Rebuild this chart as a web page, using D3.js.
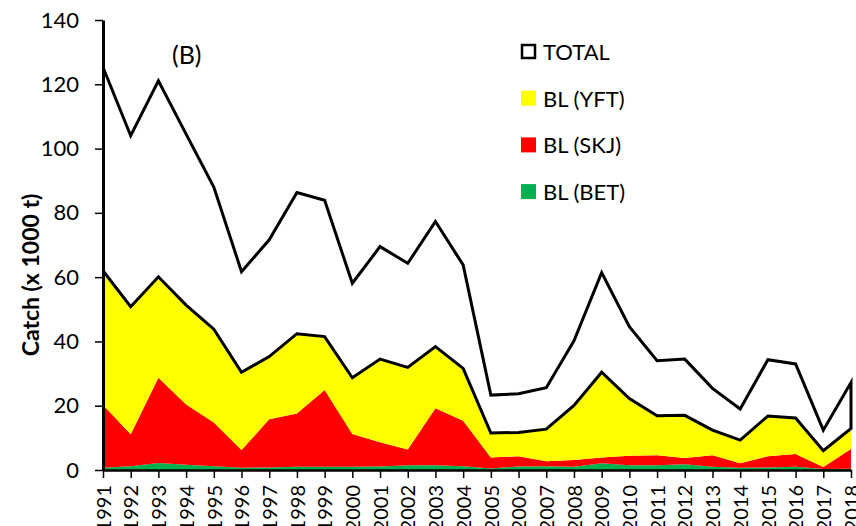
<!DOCTYPE html>
<html lang="en">
<head>
  <meta charset="UTF-8">
  <title>Catch BL</title>
  <script src="https://d3js.org/d3.v7.min.js"></script>
  <style>
    body { margin: 0; background: #fff; }
    svg { display: block; font-family: Lato, "Liberation Sans", sans-serif; }
  </style>
</head>
<body>
  <div id="chart"></div>
  <script>
    const years = d3.range(1991, 2019);
    const bet = [0.7, 1.2, 2.2, 1.6, 1.2, 0.7, 0.8, 1.0, 1.0, 1.0, 1.1, 1.5, 1.5, 1.2,
                 0.5, 1.1, 1.2, 1.0, 2.1, 1.5, 1.5, 1.8, 1.0, 0.7, 0.8, 1.0, 0.3, 0.4];
    const skj = [19.5, 9.9, 26.5, 18.8, 13.6, 5.5, 15.0, 16.6, 23.9, 10.2, 7.5, 4.9, 17.7, 14.1,
                 3.4, 3.2, 1.5, 2.1, 1.8, 2.9, 3.1, 1.9, 3.6, 1.4, 3.5, 4.0, 0.6, 6.1];
    const yft = [41.8, 39.7, 31.4, 30.9, 29.0, 24.2, 19.5, 24.8, 16.6, 17.5, 25.9, 25.5, 19.2, 16.3,
                 7.6, 7.4, 10.0, 17.0, 26.5, 17.8, 12.3, 13.3, 7.8, 7.2, 12.5, 11.2, 5.1, 6.4];
    const total = [125.3, 104.0, 121.1, 104.5, 88.0, 61.7, 71.6, 86.3, 83.9, 58.1, 69.5, 64.3, 77.3, 63.8,
                   23.3, 23.7, 25.6, 40.2, 61.4, 44.6, 34.0, 34.5, 25.4, 19.0, 34.3, 33.0, 12.4, 27.2];
    const yTicks = [0, 20, 40, 60, 80, 100, 120, 140];
    const legendItems = [
      { name: "TOTAL", color: "#ffffff" },
      { name: "BL (YFT)", color: "#ffff00" },
      { name: "BL (SKJ)", color: "#ff0000" },
      { name: "BL (BET)", color: "#00b050" }
    ];

    const width = 856, height = 526;
    const margin = { top: 20, right: 5, bottom: 56, left: 103 };

    const rows = years.map((yr, i) => ({
      year: yr, bet: bet[i], skj: skj[i], yft: yft[i], total: total[i]
    }));

    const stack = d3.stack().keys(["bet", "skj", "yft"]);
    const series = stack(rows);
    const colors = { bet: "#00b050", skj: "#ff0000", yft: "#ffff00" };

    const svg = d3.select("#chart").append("svg")
      .attr("width", width)
      .attr("height", height);

    const x = d3.scaleLinear()
      .domain([1991, 2018])
      .range([margin.left, width - margin.right]);

    const y = d3.scaleLinear()
      .domain([0, 140])
      .range([height - margin.bottom, margin.top]);

    const area = d3.area()
      .x(d => x(d.data.year))
      .y0(d => y(d[0]))
      .y1(d => y(d[1]));

    const topBL = series[2];
    const last = years.length - 1;

    // white TOTAL area sitting on top of the BL stack
    svg.append("path")
      .datum(total)
      .attr("d", d3.area()
        .x((d, i) => x(years[i]))
        .y0((d, i) => y(topBL[i][1]))
        .y1(d => y(d)))
      .attr("fill", "#fff");

    svg.selectAll(".layer")
      .data(series)
      .enter()
      .append("path")
      .attr("class", "layer")
      .attr("d", area)
      .attr("fill", d => colors[d.key]);

    // outline: total line, right edge down to the BL top, BL top line back
    const outline = years.map((yr, i) => [x(yr), y(total[i])])
      .concat(years.map((yr, i) => [x(yr), y(topBL[i][1])]).reverse());

    svg.append("path")
      .datum(outline)
      .attr("d", d3.line())
      .attr("fill", "none")
      .attr("stroke", "#000")
      .attr("stroke-width", 3)
      .attr("stroke-linejoin", "miter");

    // axes
    const yAxis = svg.append("g")
      .attr("transform", `translate(${margin.left}, 0)`)
      .call(d3.axisLeft(y).tickValues(yTicks).tickSize(8).tickPadding(16).tickSizeOuter(0));
    yAxis.select(".domain").attr("stroke-width", 3);
    yAxis.selectAll(".tick line").attr("stroke-width", 1.5);
    yAxis.selectAll("text")
      .attr("font-size", 22)
      .attr("font-family", "Lato")
      .attr("fill", "#000");

    const xAxis = svg.append("g")
      .attr("transform", `translate(0, ${height - margin.bottom})`)
      .call(d3.axisBottom(x).tickValues(years).tickFormat(d3.format("d")).tickSize(8).tickSizeOuter(0));
    xAxis.select(".domain").attr("stroke-width", 2.5);
    xAxis.selectAll(".tick line").attr("stroke-width", 1.5);
    xAxis.selectAll("text")
      .attr("font-size", 20)
      .attr("font-family", "Lato")
      .attr("fill", "#000")
      .attr("text-anchor", "end")
      .attr("transform", "translate(0, 15) rotate(-90)")
      .attr("x", 0)
      .attr("y", 0)
      .attr("dy", "0.36em");

    svg.append("text")
      .attr("transform", "translate(39, 275) rotate(-90)")
      .attr("text-anchor", "middle")
      .attr("font-size", 23)
      .attr("font-weight", "bold")
      .text("Catch (x 1000 t)");

    svg.append("text")
      .attr("x", 172)
      .attr("y", 64)
      .attr("font-size", 25)
      .text("(B)");

    // legend
    const legend = svg.selectAll(".legend")
      .data(legendItems)
      .enter()
      .append("g")
      .attr("class", "legend")
      .attr("transform", (d, i) => `translate(521, ${44 + i * 46.7})`);

    legend.append("rect")
      .attr("x", (d, i) => i === 0 ? 1 : 0)
      .attr("y", (d, i) => i === 0 ? 1 : 0)
      .attr("width", (d, i) => i === 0 ? 13 : 15)
      .attr("height", (d, i) => i === 0 ? 13 : 15)
      .attr("fill", d => d.color)
      .attr("stroke", (d, i) => i === 0 ? "#000" : "none")
      .attr("stroke-width", 2.5);

    legend.append("text")
      .attr("x", 22)
      .attr("y", 8)
      .attr("dy", "0.36em")
      .attr("font-size", 22)
      .text(d => d.name);
  </script>
</body>
</html>
